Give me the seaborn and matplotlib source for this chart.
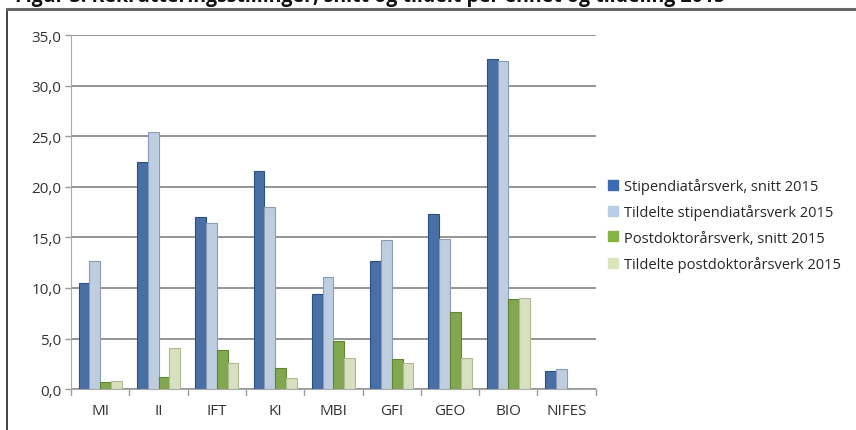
import pandas as pd
import seaborn as sns
import matplotlib.pyplot as plt
from matplotlib.lines import Line2D

# Data
enheter = ["MI", "II", "IFT", "KI", "MBI", "GFI", "GEO", "BIO", "NIFES"]
stip_snitt = [10.5, 22.5, 17.0, 21.6, 9.4, 12.7, 17.3, 32.6, 1.8]
stip_tildelt = [12.7, 25.4, 16.4, 18.0, 11.1, 14.7, 14.8, 32.4, 2.0]
postdok_snitt = [0.7, 1.2, 3.9, 2.1, 4.8, 3.0, 7.6, 8.9, 0.0]
postdok_tildelt = [0.8, 4.1, 2.6, 1.1, 3.1, 2.6, 3.1, 9.0, 0.0]

serier = ["Stipendiatårsverk, snitt 2015",
          "Tildelte stipendiatårsverk 2015",
          "Postdoktorårsverk, snitt 2015",
          "Tildelte postdoktorårsverk 2015"]
farger = ["#3b6cb4", "#b8cce6", "#86b443", "#d9e6bd"]
kanter = ["#2a4f86", "#8a9cb8", "#5f8530", "#aebb92"]

rows = []
for navn, verdier in zip(serier, [stip_snitt, stip_tildelt, postdok_snitt, postdok_tildelt]):
    for enhet, v in zip(enheter, verdier):
        rows.append({"Enhet": enhet, "Serie": navn, "Verdi": v})
df = pd.DataFrame(rows)

sns.set_style("white")
plt.rcParams['font.family'] = ['Open Sans', 'DejaVu Sans']

fig = plt.figure(figsize=(8.56, 4.31), dpi=100)
ax = fig.add_axes([0.083, 0.095, 0.613, 0.821])

sns.barplot(data=df, x="Enhet", y="Verdi", hue="Serie", hue_order=serier,
            palette=farger, width=0.74, gap=0.0, legend=False, ax=ax)

# darker edges to mimic the shaded 3D columns
for i, cont in enumerate(ax.containers):
    for bar in cont:
        bar.set_edgecolor(kanter[i])
        bar.set_linewidth(0.8)

ax.set_ylim(0, 35)
ax.set_xlim(-0.5, 8.5)
ax.set_yticks(range(0, 36, 5))
ax.set_yticklabels([f"{t:.1f}".replace(".", ",") for t in range(0, 36, 5)],
                   fontsize=11, color="#333333")
ax.tick_params(axis="x", labelsize=11, colors="#333333", length=0, pad=10)
ax.tick_params(axis="y", length=4, width=1, color="#999999", left=True, pad=3)
ax.set_xlabel("")
ax.set_ylabel("")
ax.yaxis.grid(True, color="#8c8c8c", linewidth=1.3)
ax.set_axisbelow(True)
for s in ["top", "right"]:
    ax.spines[s].set_visible(False)
ax.spines["left"].set_color("#aaaaaa")
ax.spines["bottom"].set_color("#aaaaaa")
# small ticks between categories on the floor
for k in range(10):
    ax.plot([k - 0.5, k - 0.5], [0, -0.6], color="#999999", lw=1, clip_on=False)

# legend
handles = [Line2D([], [], marker="s", linestyle="", markersize=7,
                  markerfacecolor=c, markeredgecolor=c) for c in farger]
fig.legend(handles, serier, loc="upper left", bbox_to_anchor=(0.703, 0.598),
           frameon=False, fontsize=10.5, handlelength=0.8, handletextpad=0.3,
           labelspacing=0.7, borderaxespad=0)

# frame around the figure, as in the document screenshot
fig.add_artist(Line2D([0.008, 0.008], [0, 0.977], color="#222222", lw=1.2,
                      transform=fig.transFigure))
fig.add_artist(Line2D([0.008, 1], [0.977, 0.977], color="#666666", lw=2.2,
                      transform=fig.transFigure))

# caption text cut by the top edge of the screenshot
fig.text(0.018, 1.008, "Figur 3: Rekrutteringsstillinger, snitt og tildelt per enhet og tildeling 2015",
         fontsize=14, fontweight="bold", va="center", ha="left", color="#111111")

fig.savefig("out.png", dpi=100)
